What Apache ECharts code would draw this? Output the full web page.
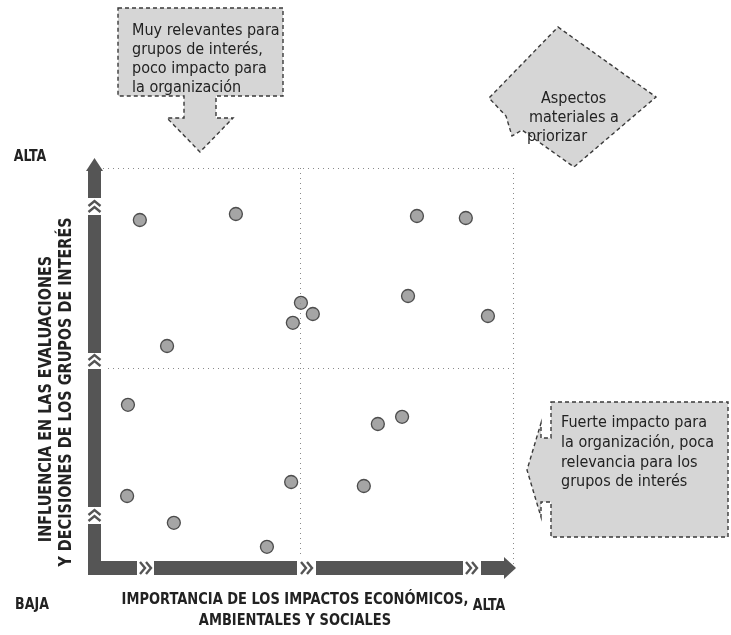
<!DOCTYPE html>
<html>
<head>
<meta charset="utf-8">
<title>Matriz de materialidad</title>
<script src="https://cdn.jsdelivr.net/npm/echarts@6/dist/echarts.min.js"></script>
<style>
  html, body { margin: 0; padding: 0; background: #fff; }
  #chart { width: 731px; height: 635px; }
</style>
</head>
<body>
<div id="chart"></div>
<script>
// Asuntos materiales: importancia de impactos (x) e influencia en grupos de interés (y), escala 0-10
const impactoX = [1.22, 3.48, 7.74, 8.89, 1.86, 5.01, 5.29, 4.82, 7.53, 9.41, 0.94, 0.92, 2.02, 4.21, 4.78, 6.82, 7.39, 6.49];
const influenciaY = [8.70, 8.85, 8.80, 8.75, 5.55, 6.63, 6.35, 6.13, 6.80, 6.30, 4.08, 1.80, 1.13, 0.53, 2.15, 3.60, 3.78, 2.05];

const tituloX = ['IMPORTANCIA DE LOS IMPACTOS ECONÓMICOS,', 'AMBIENTALES Y SOCIALES'];
const tituloY = ['INFLUENCIA EN LAS EVALUACIONES', 'Y DECISIONES DE LOS GRUPOS DE INTERÉS'];
const notaArriba = ['Muy relevantes para', 'grupos de interés,', 'poco impacto para', 'la organización'];
const notaPrioridad = ['Aspectos', 'materiales a', 'priorizar'];
const notaDerecha = ['Fuerte impacto para', 'la organización, poca', 'relevancia para los', 'grupos de interés'];

const COND = "'Liberation Sans Narrow', 'DejaVu Sans Condensed', 'Roboto Condensed', sans-serif";
const BAR = '#555555';
const FILL = '#d6d6d6';
const EDGE = '#3a3a3a';

const chart = echarts.init(document.getElementById('chart'), null, { renderer: 'canvas' });

// Bandas de los ejes con flechas y cheurones
function chevronsUp(cx, y0) {
  return [0, 6].map(d => ({
    type: 'polyline', z: 12,
    shape: { points: [[cx - 6, y0 + 7 + d], [cx, y0 + 2 + d], [cx + 6, y0 + 7 + d]] },
    style: { stroke: BAR, lineWidth: 2.4, fill: null }
  }));
}
function chevronsRight(x0, cy) {
  return [0, 6].map(d => ({
    type: 'polyline', z: 12,
    shape: { points: [[x0 + 3 + d, cy - 6], [x0 + 8 + d, cy], [x0 + 3 + d, cy + 6]] },
    style: { stroke: BAR, lineWidth: 2.4, fill: null }
  }));
}
function gapY(y0, h) {
  return { type: 'rect', z: 11, shape: { x: 85, y: y0, width: 19, height: h }, style: { fill: '#fff' } };
}
function gapX(x0, w) {
  return { type: 'rect', z: 11, shape: { x: x0, y: 558, width: w, height: 20 }, style: { fill: '#fff' } };
}
function textLines(lines, xs, ys, style) {
  return lines.map((t, i) => ({
    type: 'text', z: 21,
    x: Array.isArray(xs) ? xs[i] : xs, y: ys[i],
    style: Object.assign({ text: t, fill: '#222', font: '16px ' + COND, textVerticalAlign: 'middle' }, style || {})
  }));
}
// texto en negrita algo alargado en vertical
function tallText(t, x, y, size, extra) {
  return Object.assign({
    type: 'text', x: x, y: y, scaleY: 1.15,
    style: { text: t, font: 'bold ' + size + 'px ' + COND, fill: '#222', textAlign: 'center', textVerticalAlign: 'middle' }
  }, extra || {});
}

const graphics = [
  // eje vertical
  { type: 'rect', z: 10, shape: { x: 88, y: 168, width: 13, height: 407 }, style: { fill: BAR } },
  { type: 'polygon', z: 10, shape: { points: [[86, 171], [94.5, 158], [103, 171]] }, style: { fill: BAR } },
  gapY(198, 17), ...chevronsUp(94.5, 199),
  gapY(353, 16), ...chevronsUp(94.5, 353),
  gapY(507, 17), ...chevronsUp(94.5, 508),
  // eje horizontal
  { type: 'rect', z: 10, shape: { x: 88, y: 561, width: 418, height: 14 }, style: { fill: BAR } },
  { type: 'polygon', z: 10, shape: { points: [[504, 557], [516, 568], [504, 579]] }, style: { fill: BAR } },
  gapX(137, 17), ...chevronsRight(137, 568),
  gapX(297, 19), ...chevronsRight(298, 568),
  gapX(463, 18), ...chevronsRight(463, 568),

  // etiquetas ALTA / BAJA
  tallText('ALTA', 30, 157, 14, {}),
  tallText('BAJA', 32, 605, 14, {}),
  tallText('ALTA', 489, 606, 14, {}),

  // títulos de ejes
  tallText(tituloX[0], 295, 600, 14.5),
  tallText(tituloX[1], 295, 621, 14.5),
  tallText(tituloY[0], 46, 399, 16, { rotation: Math.PI / 2 }),
  tallText(tituloY[1], 66, 392, 16, { rotation: Math.PI / 2 }),

  // recuadro superior con flecha hacia abajo
  { type: 'polygon', z: 20, shape: { points: [[118, 8], [283, 8], [283, 96], [216, 96], [216, 118], [233, 118], [200, 152], [167, 118], [184, 118], [184, 96], [118, 96]] },
    style: { fill: FILL, stroke: EDGE, lineWidth: 1.4, lineDash: [4, 3] } },
  ...textLines(notaArriba, 132, [31, 50, 69, 88]),

  // rombo de aspectos prioritarios
  { type: 'polygon', z: 20, shape: { points: [[558, 27], [656, 97], [574, 167], [522, 130], [512, 136], [506, 116], [489, 98]] },
    style: { fill: FILL, stroke: EDGE, lineWidth: 1.4, lineDash: [4, 3] } },
  ...textLines(notaPrioridad, [541, 529, 527], [99, 118, 137]),

  // recuadro derecho con flecha hacia la izquierda
  { type: 'polygon', z: 20, shape: { points: [[551, 402], [728, 402], [728, 537], [551, 537], [551, 502], [541, 502], [541, 517], [527, 470], [541, 423], [541, 438], [551, 438]] },
    style: { fill: FILL, stroke: EDGE, lineWidth: 1.4, lineDash: [4, 3] } },
  ...textLines(notaDerecha, 561, [423, 443, 463, 482])
];

const dotted = { show: true, lineStyle: { color: '#8a8a8a', width: 1, type: [1, 4] } };

chart.setOption({
  animation: false,
  backgroundColor: '#fff',
  grid: { left: 88, top: 168, width: 425, height: 400, containLabel: false },
  xAxis: {
    type: 'value', min: 0, max: 10, interval: 5,
    axisLine: { show: false }, axisTick: { show: false }, axisLabel: { show: false },
    splitLine: dotted
  },
  yAxis: {
    type: 'value', min: 0, max: 10, interval: 5,
    axisLine: { show: false }, axisTick: { show: false }, axisLabel: { show: false },
    splitLine: dotted
  },
  series: [{
    type: 'scatter',
    data: impactoX.map((x, i) => [x, influenciaY[i]]),
    symbol: 'circle',
    symbolSize: 13,
    itemStyle: { color: '#8e8e8e', borderColor: '#2a2a2a', borderWidth: 1.3 },
    z: 5
  }],
  graphic: graphics
});
</script>
</body>
</html>
